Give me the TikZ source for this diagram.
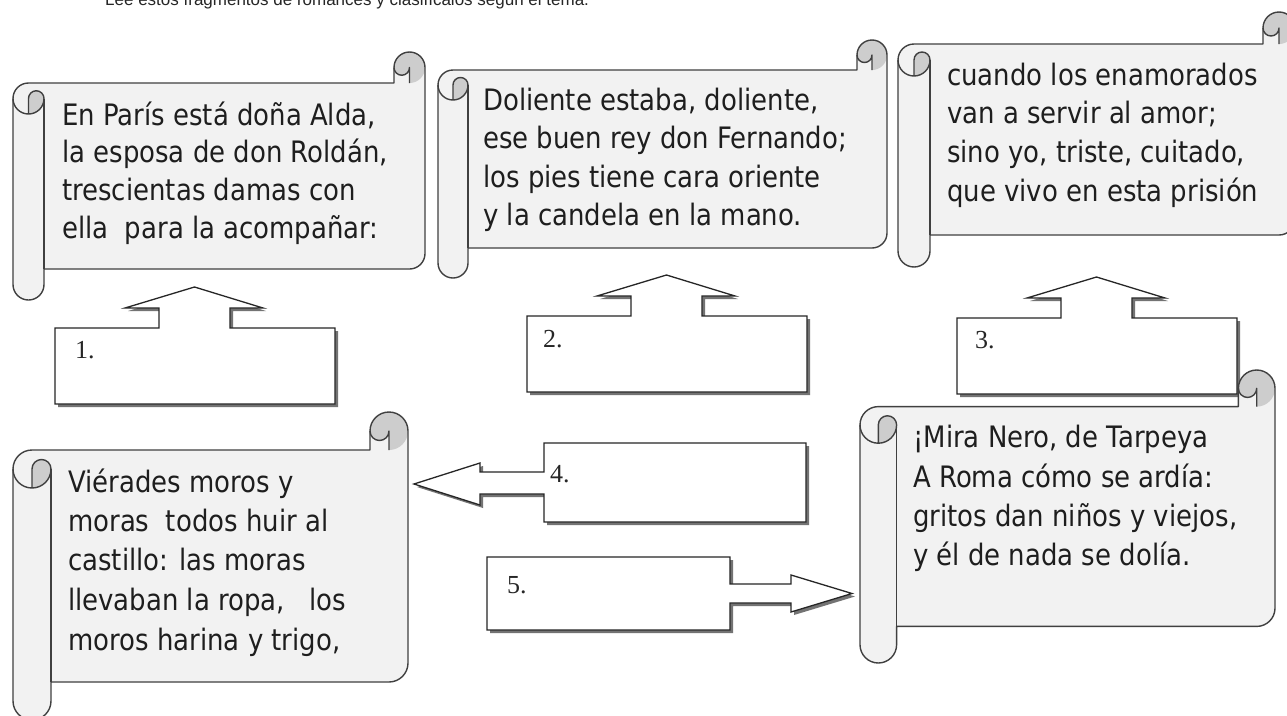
\documentclass[tikz,border=0pt]{standalone}
\usepackage{fontspec}
\setmainfont{Liberation Serif}
\newfontfamily\comic[FakeStretch=0.88]{DejaVu Sans}
\newfontfamily\arialf{Liberation Sans}
\newfontfamily\timesf{Liberation Serif}
\definecolor{scrollfill}{HTML}{F2F2F2}
\definecolor{scrolldark}{HTML}{CDCDCD}
\definecolor{scrollstroke}{HTML}{404040}
\definecolor{textc}{HTML}{1E1E1E}
\tikzset{
  scrollline/.style={draw=scrollstroke, line width=1.4pt, line join=round},
  stext/.style={anchor=base west, inner sep=0pt, text=textc, font=\comic\fontsize{29.5}{29.5}\selectfont},
  ctext/.style={anchor=base west, inner sep=0pt, text=black!85, font=\timesf\fontsize{26}{26}\selectfont},
  shadowc/.style={fill=black!55},
  callbox/.style={fill=white, draw=black!85, line width=1.3pt, line join=miter},
  pics/scroll/.style n args={3}{code={
    \pgfmathsetmacro\sW{#1}%
    \pgfmathsetmacro\sr{#3}%
    \pgfmathsetmacro\sq{#3/2}%
    \pgfmathsetmacro\sd{2*#3}%
    \pgfmathsetmacro\xA{#1-2*#3}%
    \pgfmathsetmacro\xB{#1-#3}%
    \pgfmathsetmacro\yA{3*#3}%
    \pgfmathsetmacro\yB{4*#3}%
    \pgfmathsetmacro\yC{#2-3*#3}%
    \pgfmathsetmacro\yD{#2-2*#3}%
    \pgfmathsetmacro\yE{#2-#3}%
    \fill[scrollfill] (0,\yA) arc[start angle=180,delta angle=90,radius=\sr] -- (\xA,\sd) -- (\xA,\sr) arc[start angle=180,delta angle=180,radius=\sr] -- (\sW,\yC) arc[start angle=0,delta angle=90,radius=\sr] -- (\sd,\yD) -- (\sd,\yE) arc[start angle=0,delta angle=180,radius=\sr] -- cycle;
    \fill[scrolldark] (\xB,\sd) arc[start angle=90,delta angle=-270,radius=\sr] arc[start angle=180,delta angle=-180,radius=\sq] -- cycle;
    \fill[scrolldark] (\sr,\yB) arc[start angle=90,delta angle=-90,radius=\sr] arc[start angle=0,delta angle=-180,radius=\sq] -- cycle;
    \draw[scrollline] (0,\yA) arc[start angle=180,delta angle=90,radius=\sr] -- (\xA,\sd) -- (\xA,\sr) arc[start angle=180,delta angle=180,radius=\sr] -- (\sW,\yC) arc[start angle=0,delta angle=90,radius=\sr] -- (\sd,\yD) -- (\sd,\yE) arc[start angle=0,delta angle=180,radius=\sr] -- cycle;
    \draw[scrollline] (\xB,\sd) -- (\xB,\sr) arc[start angle=0,delta angle=180,radius=\sq];
    \draw[scrollline] (\sr,\yB) -- (\sr,\yA) arc[start angle=180,delta angle=180,radius=\sq] arc[start angle=0,delta angle=180,radius=\sr];
    \draw[scrollline] (\sd,\yA) -- (\sd,\yD);
  }},
  pics/upcallout/.style={code={
    \fill[shadowc] (3,3) -- (107,3) -- (107,-17) -- (73,-17) -- (142.5,-38) -- (211,-17) -- (178,-17) -- (178,3) -- (283,3) -- (283,79) -- (3,79) -- cycle;
    \draw[callbox] (0,0) -- (104,0) -- (104,-20) -- (70,-20) -- (139.5,-41) -- (208,-20) -- (175,-20) -- (175,0) -- (280,0) -- (280,76) -- (0,76) -- cycle;
  }}
}
\begin{document}
\begin{tikzpicture}[x=1pt,y=-1pt]
\useasboundingbox (0,0) rectangle (1287,715);
\clip (0,0) rectangle (1287,715);
\fill[white] (0,0) rectangle (1287,715);

% title (cut by the top edge)
\node[anchor=base west, inner sep=0pt, text=black!85, font=\arialf\fontsize{17}{17}\selectfont] (title) at (105,5) {Lee estos fragmentos de romances y clasifícalos según el tema.};

% callouts 1-3
\pic (c1) at (55,328) {upcallout};
\pic (c2) at (527,316) {upcallout};
\pic (c3) at (957,318) {upcallout};
\node[ctext] (n1) at (75,358) {1.};
\node[ctext] (n2) at (543,347) {2.};
\node[ctext] (n3) at (975,348) {3.};

% callout 4 (left arrow)
\begin{scope}[shift={(3,3)}]
\fill[shadowc] (544,443) -- (806,443) -- (806,522) -- (544,522) -- (544,494) -- (480,494) -- (480,505) -- (414,484) -- (480,463) -- (480,472) -- (544,472) -- cycle;
\end{scope}
\draw[callbox] (544,443) -- (806,443) -- (806,522) -- (544,522) -- (544,494) -- (480,494) -- (480,505) -- (414,484) -- (480,463) -- (480,472) -- (544,472) -- cycle;
\node[ctext] (n4) at (550,482) {4.};

% callout 5 (right arrow)
\begin{scope}[shift={(3,3)}]
\fill[shadowc] (487,557) -- (730,557) -- (730,584) -- (791,584) -- (791,575) -- (852,593.5) -- (791,612) -- (791,603) -- (730,603) -- (730,630) -- (487,630) -- cycle;
\end{scope}
\draw[callbox] (487,557) -- (730,557) -- (730,584) -- (791,584) -- (791,575) -- (852,593.5) -- (791,612) -- (791,603) -- (730,603) -- (730,630) -- (487,630) -- cycle;
\node[ctext] (n5) at (507,593) {5.};

% scrolls
\pic (s1) at (13,52) {scroll={412}{248}{15.5}};
\pic (s2) at (438,40) {scroll={449}{238}{15}};
\pic (s3) at (898,12) {scroll={397}{255}{16}};
\pic (s4) at (13,412) {scroll={395}{308}{19}};
\pic (s5) at (860,370) {scroll={415}{293}{18.3}};

\node[stext] (s1a) at (62,125) {En París está doña Alda,};
\node[stext] (s1b) at (62,162) {la esposa de don Roldán,};
\node[stext] (s1c) at (62,200) {trescientas damas con};
\node[stext] (s1d) at (62,238) {ella\ \ para la acompañar:};

\node[stext] (s2a) at (483,110) {Doliente estaba, doliente,};
\node[stext] (s2b) at (483,148) {ese buen rey don Fernando;};
\node[stext] (s2c) at (483,187) {los pies tiene cara oriente};
\node[stext] (s2d) at (483,225) {y la candela en la mano.};

\node[stext] (s3a) at (947,85) {cuando los enamorados};
\node[stext] (s3b) at (947,123) {van a servir al amor;};
\node[stext] (s3c) at (947,162) {sino yo, triste, cuitado,};
\node[stext] (s3d) at (947,201) {que vivo en esta prisión};

\node[stext] (s4a) at (68,492) {Viérades moros y};
\node[stext] (s4b) at (68,531) {moras\ \ todos huir al};
\node[stext] (s4c) at (68,570) {castillo: las moras};
\node[stext] (s4d) at (68,610) {llevaban la ropa,\ \ \ los};
\node[stext] (s4e) at (68,650) {moros harina y trigo,};

\node[stext] (s5a) at (913,447) {¡Mira Nero, de Tarpeya};
\node[stext] (s5b) at (913,487) {A Roma cómo se ardía:};
\node[stext] (s5c) at (913,526) {gritos dan niños y viejos,};
\node[stext] (s5d) at (913,565) {y él de nada se dolía.};
\end{tikzpicture}
\end{document}
